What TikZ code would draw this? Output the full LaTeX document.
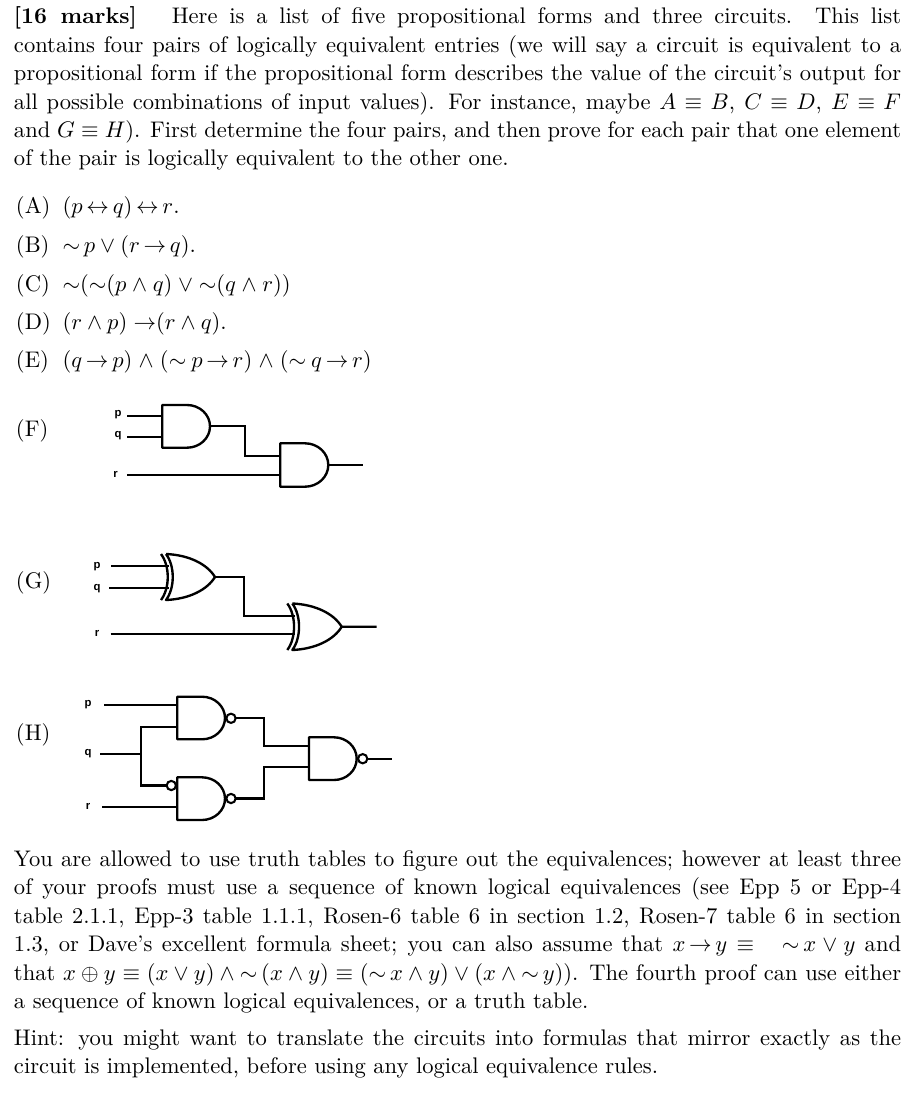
\documentclass[tikz,border=0pt]{standalone}
\usepackage[no-math]{fontspec}
\newfontfamily\labfont{Liberation Sans}
\newcommand{\bodysize}{\fontsize{10.95}{13.6}\selectfont}
\newlength{\tw}\setlength{\tw}{430.6pt}
\newcommand{\Js}[1]{\hbox to \tw{#1}}
\newcommand{\Tag}[1]{\makebox[22.6pt][l]{#1}}
\newcommand{\sm}{{\sim}}
\newcommand{\lra}{\mskip3mu{\leftrightarrow}\mskip3mu}
\newcommand{\ra}{\mskip3mu{\rightarrow}\mskip3mu}
% and-gate outline: name, left x, top y, bottom y, straight part x, tip x
\newcommand{\gateand}[6]{%
  \coordinate (#1-tl) at (#2,#3);
  \coordinate (#1-bl) at (#2,#4);
  \coordinate (#1-st) at (#5,#3);
  \coordinate (#1-sb) at (#5,#4);
  \coordinate (#1-o) at (#6,{(#3+#4)/2});
  \draw[gate] (#1-tl) -- (#1-st)
    .. controls ({#5+0.5523*(#6-#5)},#3) and (#6,{(#3+#4)/2-0.5523*(#4-#3)/2}) .. (#1-o)
    .. controls (#6,{(#3+#4)/2+0.5523*(#4-#3)/2}) and ({#5+0.5523*(#6-#5)},#4) .. (#1-sb)
    -- (#1-bl) -- cycle;
}
% xor-gate outline: name, outer tip x, top y, bottom y, tip x
\newcommand{\gatexor}[5]{%
  \coordinate (#1-ot) at (#2,#3);
  \coordinate (#1-ob) at (#2,#4);
  \coordinate (#1-it) at ({#2+5},#3);
  \coordinate (#1-ib) at ({#2+5},#4);
  \coordinate (#1-o) at (#5,{(#3+#4)/2});
  \draw[gate] (#1-ot) .. controls ({#2+9},{#3+12}) and ({#2+9},{#4-12}) .. (#1-ob);
  \draw[gate] (#1-it) .. controls ({#2+14},{#3+12}) and ({#2+14},{#4-12}) .. (#1-ib)
     .. controls ({#2+28},{#4-1}) and ({#5-8},{#4-10}) .. (#1-o)
     .. controls ({#5-8},{#3+10}) and ({#2+28},{#3+1}) .. (#1-it);
}
\tikzset{
  x=0.4854pt,y=-0.4854pt,
  body/.style={inner sep=0pt,outer sep=0pt,anchor=base west,font=\bodysize},
  glabel/.style={inner sep=0pt,outer sep=0pt,anchor=center,font=\labfont\bfseries\fontsize{5.5}{6.5}\selectfont},
  gate/.style={line width=1.15pt,line join=round},
  wire/.style={line width=1.05pt,line join=miter},
  bubble/.style={circle,draw,line width=1pt,minimum size=4.5pt,inner sep=0pt,outer sep=0pt,fill=white},
}
\begin{document}
\begin{tikzpicture}
\useasboundingbox (0,0) rectangle (915,1100);
% first paragraph
\node[body] (t1) at (14,24) {\Js{\textbf{[16 marks]}\hspace{17pt}Here is a list of five propositional forms and three circuits.  This list}};
\node[body] (t2) at (14,53) {\Js{contains four pairs of logically equivalent entries (we will say a circuit is equivalent to a}};
\node[body] (t3) at (14,81) {\Js{propositional form if the propositional form describes the value of the circuit's output for}};
\node[body] (t4) at (14,110) {\Js{all possible combinations of input values).  For instance, maybe $A\equiv B$, $C\equiv D$, $E\equiv F$}};
\node[body] (t5) at (14,138) {\Js{and $G\equiv H$).  First determine the four pairs, and then prove for each pair that one element}};
\node[body] (t6) at (14,166) {of the pair is logically equivalent to the other one.};
% list
\node[body] (la) at (16,214) {\Tag{(A)}$(p\lra q)\lra r$.};
\node[body] (lb) at (16,252) {\Tag{(B)}$\sm\,p\vee(r\ra q)$.};
\node[body] (lc) at (16,291) {\Tag{(C)}$\medmuskip=4.5mu\sm(\sm(p\wedge q)\vee\sm(q\wedge r))$};
\node[body] (ld) at (16,329) {\Tag{(D)}$(r\wedge p)\mskip5mu{\rightarrow}(r\wedge q)$.};
\node[body] (le) at (16,367) {\Tag{(E)}$\medmuskip=5mu(q\ra p)\wedge(\sm\mskip4mu p\ra r)\wedge(\sm\mskip4mu q\ra r)$};
\node[body] (lf) at (16,436) {(F)};
\node[body] (lg) at (16,588) {(G)};
\node[body] (lh) at (16,740) {(H)};
% circuit F
\node[glabel] (fp) at (118,415) {p};
\node[glabel] (fq) at (118,436) {q};
\node[glabel] (fr) at (115.5,474) {r};
\gateand{fa}{162.3}{405}{447.7}{187}{210}
\gateand{fb}{280.3}{443.3}{486.7}{305}{328.3}
\coordinate (fp0) at (127,416.3); \coordinate (fq0) at (127,436.7); \coordinate (fr0) at (127,475.3);
\coordinate (fz) at (363.3,465);
\draw[wire] (fp0) -- (fp0 -| fa-tl);
\draw[wire] (fq0) -- (fq0 -| fa-tl);
\draw[wire] (fr0) -- (fr0 -| fb-tl);
\coordinate (fi) at (280.3,455.7);
\draw[wire] (fa-o) -| (245,455.7) -- (fi);
\draw[wire] (fb-o) -- (fz);
% circuit G
\node[glabel] (gp) at (97,567) {p};
\node[glabel] (gq) at (97,589) {q};
\node[glabel] (gr) at (97,633) {r};
\gatexor{ga}{161}{554}{600}{215}
\gatexor{gb}{287.3}{603.5}{650}{341.7}
\coordinate (gp0) at (111,565.7); \coordinate (gq0) at (109,587.7); \coordinate (gr0) at (110.7,634.3);
\coordinate (gz) at (376.7,626.8);
\draw[wire] (gp0) -- (169,565.7);
\draw[wire] (gq0) -- (169,587.7);
\draw[wire] (gr0) -- (295,634.3);
\draw[wire] (ga-o) -| (244,615.7) -- (295,615.7);
\draw[wire] (gb-o) -- (gz);
% circuit H
\node[glabel] (hp) at (88,705) {p};
\node[glabel] (hq) at (88,754) {q};
\node[glabel] (hr) at (88,806) {r};
\gateand{ha}{177.3}{696.7}{739.3}{202}{225}
\gateand{hb}{177.3}{777.3}{820}{202}{225}
\gateand{hc}{309}{737.3}{780}{334}{356.7}
\node[bubble] (ba) at (231,718.3) {};
\node[bubble] (bb) at (231,798.5) {};
\node[bubble] (bc) at (362.7,758.7) {};
\node[bubble] (bi) at (171.3,785.5) {};
\coordinate (hp0) at (104,705.3); \coordinate (hq0) at (100,754); \coordinate (hr0) at (102.3,807);
\coordinate (hj) at (141.3,754); \coordinate (hz) at (392.3,758.7);
\draw[wire] (hp0) -- (hp0 -| ha-tl);
\draw[wire] (hr0) -- (hr0 -| hb-tl);
\draw[wire] (hq0) -- (hj);
\draw[wire] (177.3,726.7) -| (hj);
\draw[wire] (hj) |- (bi.west);
\draw[wire] (ba.east) -| (264.3,745.7) -- (309,745.7);
\draw[wire] (bb.east) -| (264.3,767.3) -- (309,767.3);
\draw[wire] (bc.east) -- (hz);
% second paragraph
\node[body] (u1) at (14,866) {\Js{You are allowed to use truth tables to figure out the equivalences; however at least three}};
\node[body] (u2) at (14,894) {\Js{of your proofs must use a sequence of known logical equivalences (see Epp 5 or Epp-4}};
\node[body] (u3) at (14,923) {\Js{table 2.1.1, Epp-3 table 1.1.1, Rosen-6 table 6 in section 1.2, Rosen-7 table 6 in section}};
\node[body] (u4) at (14,951) {\Js{1.3, or Dave's excellent formula sheet; you can also assume that $x\ra y\equiv\ \ \sm\,x\vee y$ and}};
\node[body] (u5) at (14,980) {\Js{that $x\oplus y\equiv(x\vee y)\wedge\sm\,(x\wedge y)\equiv(\sm\,x\wedge y)\vee(x\wedge\sm\,y))$.  The fourth proof can use either}};
\node[body] (u6) at (14,1008) {a sequence of known logical equivalences, or a truth table.};
\node[body] (u7) at (14,1045) {\Js{Hint:  you might want to translate the circuits into formulas that mirror exactly as the}};
\node[body] (u8) at (14,1073) {circuit is implemented, before using any logical equivalence rules.};
\end{tikzpicture}
\end{document}
